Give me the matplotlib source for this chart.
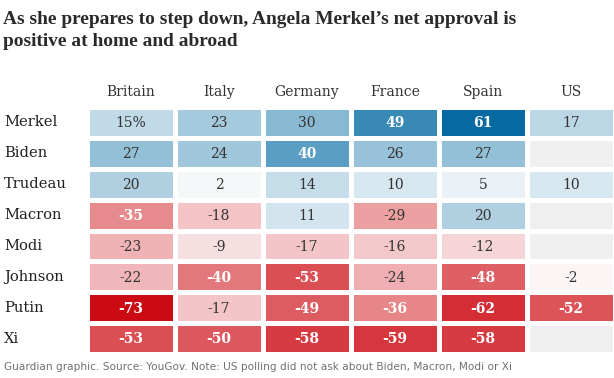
import numpy as np
import matplotlib
matplotlib.use("Agg")
import matplotlib.pyplot as plt
from matplotlib.colors import LinearSegmentedColormap

countries = ["Britain", "Italy", "Germany", "France", "Spain", "US"]
leaders = ["Merkel", "Biden", "Trudeau", "Macron", "Modi", "Johnson", "Putin", "Xi"]
nan = np.nan
merkel = [15, 23, 30, 49, 61, 17]
biden = [27, 24, 40, 26, 27, nan]
trudeau = [20, 2, 14, 10, 5, 10]
macron = [-35, -18, 11, -29, 20, nan]
modi = [-23, -9, -17, -16, -12, nan]
johnson = [-22, -40, -53, -24, -48, -2]
putin = [-73, -17, -49, -36, -62, -52]
xi = [-53, -50, -58, -59, -58, nan]

values = np.array([merkel, biden, trudeau, macron, modi, johnson, putin, xi], dtype=float)

title_lines = ["As she prepares to step down, Angela Merkel\u2019s net approval is",
               "positive at home and abroad"]
footer = "Guardian graphic. Source: YouGov. Note: US polling did not ask about Biden, Macron, Modi or Xi"

# colour scale
stops = [(-73, "#cc0a14"), (-62, "#d42d35"), (-50, "#dd5a5f"), (-40, "#e3787c"),
         (-29, "#eca0a2"), (-17, "#f3c6c9"), (-9, "#f6dfe1"), (0, "#fcfcfc"),
         (5, "#eaf2f6"), (10, "#d6e7f0"), (17, "#bad6e5"), (24, "#a2c8dc"),
         (30, "#87b9d3"), (40, "#5a9ec4"), (49, "#3a8ab7"), (61, "#0669a1")]
vmin, vmax = -73, 61
cmap = LinearSegmentedColormap.from_list(
    "approval", [((v - vmin) / (vmax - vmin), c) for v, c in stops])
cmap.set_bad("#efefef")

W, H = 614, 378
fig = plt.figure(figsize=(W / 100, H / 100), dpi=100)
fig.patch.set_facecolor("white")

gx0, gx1, gy0, gy1 = 87, 615, 107, 354
ax = fig.add_axes([gx0 / W, 1 - gy1 / H, (gx1 - gx0) / W, (gy1 - gy0) / H])
masked = np.ma.masked_invalid(values)
ax.pcolormesh(np.arange(len(countries) + 1) - 0.5, np.arange(len(leaders) + 1) - 0.5,
              masked, cmap=cmap, vmin=vmin, vmax=vmax,
              edgecolors="white", linewidth=2.2)
ax.set_xlim(-0.5, len(countries) - 0.5)
ax.set_ylim(len(leaders) - 0.5, -0.5)
ax.axis("off")

serif = ["DejaVu Serif"]
for i, row in enumerate(values):
    for j, v in enumerate(row):
        if np.isnan(v):
            continue
        txt = f"{int(v)}%" if (i == 0 and j == 0) else f"{int(v)}"
        white = abs(v) >= 35
        ax.text(j, i + 0.03, txt, ha="center", va="center", fontsize=10,
                family=serif, color="white" if white else "#333333",
                fontweight="bold" if white else "normal")

for j, c in enumerate(countries):
    ax.text(j, -0.5 - 15 / (gy1 - gy0) * len(leaders), c, ha="center", va="center",
            fontsize=10, family=serif, color="#333333")

for i, name in enumerate(leaders):
    fig.text(4 / W, 1 - (gy0 + (i + 0.5) * (gy1 - gy0) / len(leaders)) / H, name,
             ha="left", va="center", fontsize=10.6, family=serif, color="#222222")

# title, fitted to the reference width
tfam = ["Liberation Serif", "DejaVu Serif"]
renderer = fig.canvas.get_renderer()
t1 = fig.text(3 / W, 1 - 24 / H, title_lines[0], ha="left", va="baseline", fontsize=15,
              family=tfam, fontweight="bold", color="#2a2a2a")
w = t1.get_window_extent(renderer).width
fs = 15 * 516 / w
t1.set_fontsize(fs)
fig.text(3 / W, 1 - 46.5 / H, title_lines[1], ha="left", va="baseline", fontsize=fs,
         family=tfam, fontweight="bold", color="#2a2a2a")

fig.text(4 / W, 1 - 367 / H, footer, ha="left", va="center", fontsize=7.6,
         family=["DejaVu Sans"], color="#707070")

fig.savefig("out.png", dpi=100, facecolor="white")
